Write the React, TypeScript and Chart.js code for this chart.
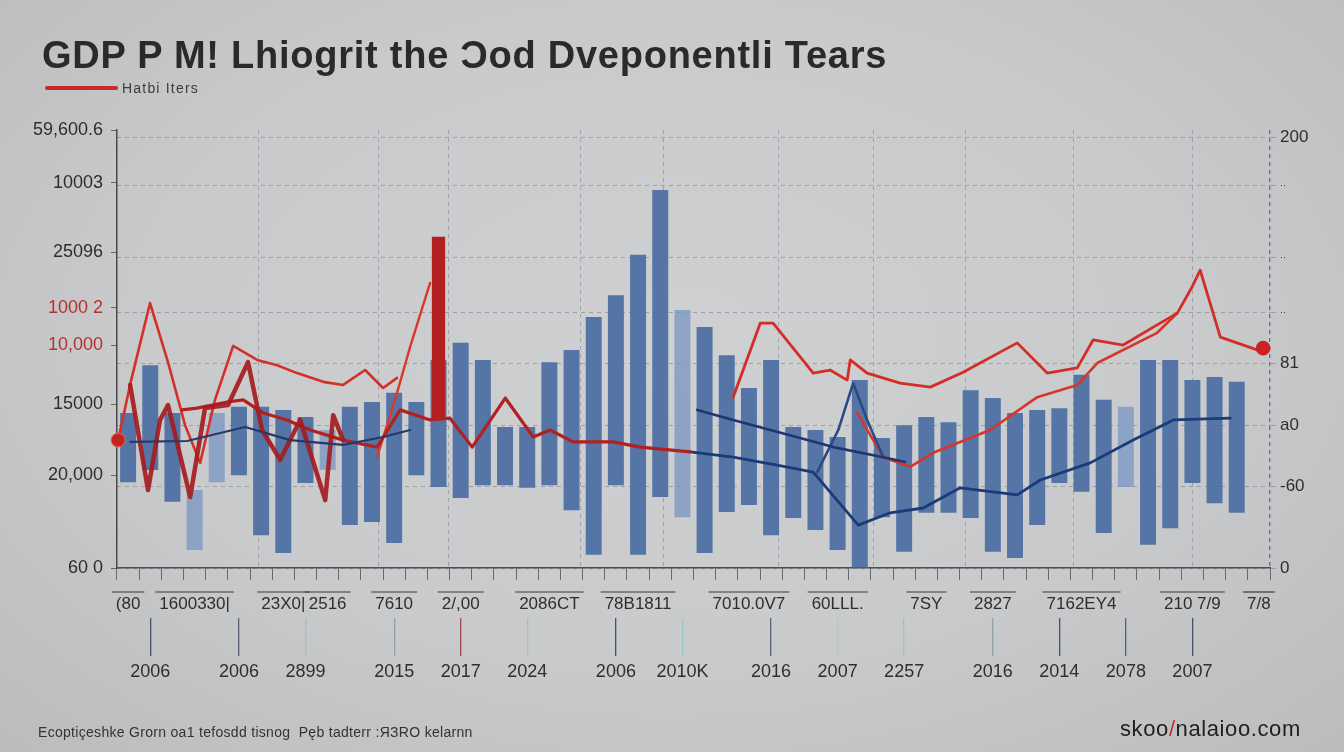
import React, { useEffect, useRef } from "react";
import { Chart, registerables } from "chart.js";

Chart.register(...registerables);

// ---------- DATA ----------
const CATEGORIES = Array.from({ length: 52 }, (_, i) => `P${i + 1}`);

// floating bars: low / high (left-axis units)
const BAR_LOW = [19.6, 22.4, 15.1, 4.1, 19.6, 21.2, 7.5, 3.4, 19.4, 22.4, 9.8, 10.5, 5.7, 21.2, 18.5, 16.0, 18.9, 18.9, 18.3, 18.9, 13.2, 3.0, 18.9, 3.0, 16.2, 11.6, 3.4, 12.8, 14.4, 7.5, 11.4, 8.7, 4.1, 0, 11.6, 3.7, 12.6, 12.6, 11.4, 3.7, 2.3, 9.8, 19.4, 17.4, 8.0, 18.5, 5.3, 9.1, 19.4, 14.8, 12.6, null];
const BAR_HIGH = [35.4, 46.3, 35.4, 17.8, 35.4, 36.8, 36.8, 36.1, 34.5, 31.5, 36.8, 37.9, 40.0, 37.9, 47.5, 51.4, 47.5, 32.2, 32.2, 47.0, 49.8, 57.3, 62.3, 71.5, 86.3, 58.9, 55.0, 48.6, 41.1, 47.5, 32.2, 31.5, 29.9, 42.9, 29.7, 32.6, 34.5, 33.3, 40.6, 38.8, 35.4, 36.1, 36.5, 44.1, 38.4, 36.8, 47.5, 47.5, 42.9, 43.6, 42.5, null];
const FADED_BARS = [3, 4, 9, 25, 45];

const ACCENT_INDEX = 14;
const ACCENT_LOW = 33.8;
const ACCENT_HIGH = 75.6;

// lines (x in period units, y in left-axis units)
const RED_UPPER_X = [-0.45, 0.14, 0.99, 1.8, 2.57, 3.25, 3.92, 4.74, 5.82, 6.72, 7.62, 8.8, 9.7, 10.69, 11.5, 12.13];
const RED_UPPER_Y = [29.2, 42.9, 60.5, 47.0, 32.6, 24.0, 38.4, 50.7, 47.5, 46.3, 44.5, 42.5, 41.8, 45.2, 41.1, 43.4];

const RED_STEEP_X = [11.23, 12.13, 12.72, 13.62];
const RED_STEEP_Y = [25.3, 40.0, 50.5, 65.1];

const RED_ZIG_X = [0.09, 0.9, 1.44, 1.8, 2.8, 3.47, 4.51, 5.41, 6.04, 6.86, 7.76, 8.89, 9.25, 9.7];
const RED_ZIG_Y = [41.8, 17.8, 33.8, 37.2, 16.2, 36.5, 37.2, 47.0, 31.5, 24.7, 33.8, 15.5, 34.9, 29.2];

const RED_MID_X = [2.44, 3.11, 4.47, 5.19, 6.09, 7.17, 8.21, 9.7, 11.23, 12.27, 13.62, 14.52, 15.52, 17.01, 18.27, 19.03, 20.07, 21.88, 23.09, 25.35];
const RED_MID_Y = [36.1, 36.5, 37.9, 38.4, 35.4, 33.8, 31.5, 29.2, 27.6, 36.1, 33.8, 34.2, 27.6, 38.8, 29.9, 31.5, 28.8, 28.8, 27.6, 26.5];

const NAVY_LEFT_X = [0.09, 2.66, 5.28, 7.31, 9.7, 11.5, 12.72];
const NAVY_LEFT_Y = [28.8, 29.0, 32.2, 29.2, 28.1, 29.9, 31.5];

const NAVY_MID_X = [25.67, 27.29, 30.31, 31.8, 34.06, 35.05];
const NAVY_MID_Y = [36.1, 33.8, 29.7, 27.6, 25.3, 24.2];

const NAVY_SPIKE_X = [31.08, 32.03, 32.7, 33.33, 34.06];
const NAVY_SPIKE_Y = [21.9, 31.5, 42.2, 33.8, 25.3];

const NAVY_LOW_X = [25.35, 27.29, 29.27, 30.9, 32.93, 34.37, 35.86, 37.53, 40.1, 41.14, 43.39, 45.33, 47.14, 49.71];
const NAVY_LOW_Y = [26.5, 25.3, 23.5, 21.9, 9.8, 12.6, 13.7, 18.3, 16.7, 20.1, 24.0, 29.2, 33.8, 34.2];

const RED_RIGHT_X = [27.29, 28.51, 29.09, 30.9, 31.66, 32.43, 32.57, 33.33, 34.82, 36.18, 37.66, 40.1, 41.45, 42.81, 43.53, 44.88, 46.41, 47.32, 47.99, 48.35, 49.26, 50.92, 51.19];
const RED_RIGHT_Y = [39.0, 55.9, 55.9, 44.5, 45.2, 42.9, 47.5, 44.5, 42.2, 41.3, 44.7, 51.4, 44.5, 45.7, 52.1, 50.9, 55.5, 58.2, 64.2, 68.0, 52.7, 49.8, 50.2];

const RED_LOWER_X = [32.88, 34.06, 35.27, 36.31, 38.88, 41.0, 42.81, 43.71, 46.41, 47.32];
const RED_LOWER_Y = [35.4, 25.3, 23.1, 26.3, 31.5, 39.0, 41.8, 46.8, 53.7, 58.2];

// tick labels
const LEFT_TICK_VALUES = [100, 87.9, 72.1, 59.4, 50.9, 37.4, 21.2, 0];
const LEFT_TICK_LABELS = ["59,600.6", "10003", "25096", "1000 2", "10,000", "15000", "20,000", "60 0"];
const LEFT_RED_TICKS = [3, 4];

const RIGHT_TICK_VALUES = [98.4, 87.4, 71.0, 58.4, 46.8, 32.6, 18.7, 0];
const RIGHT_TICK_LABELS = ["200", "··", "··", "··", "81", "a0", "-60", "0"];

const ROW1_AT = [0, 3, 7, 9, 12, 15, 19, 23, 28, 32, 36, 39, 43, 48, 51];
const ROW1_TEXT = ["(80", "1600330|", "23X0|", "2516", "7610", "2/,00", "2086CT", "78B1811", "7010.0V7", "60LLL.", "7SY", "2827", "7162EY4", "210 7/9", "7/8"];

const ROW2_AT = [1, 5, 8, 12, 15, 18, 22, 25, 29, 32, 35, 39, 42, 45, 48];
const ROW2_TEXT = ["2006", "2006", "2899", "2015", "2017", "2024", "2006", "2010K", "2016", "2007", "2257", "2016", "2014", "2078", "2007"];

const VGRID_AT = [5.86, 11.28, 14.43, 20.39, 24.13, 29.32, 33.6, 37.75, 42.63, 47.99, 51.5];

// ---------- STYLE ----------
const AXIS_FONT = '"Liberation Sans", Arial, sans-serif';
const ROW1_FONT_SIZE = 17;
const ROW2_LINE_COLORS = ["#4b4f6a", "#5a5f78", "#9cc6bb", "#8fa0a8", "#a24848", "#9cc6bb", "#4b4f6a", "#9cc6bb", "#5a5f78", "#a7cfc3", "#9cc6bb", "#8fa0a8", "#4b4f6a", "#5a5f78", "#4b4f6a"];

const row1Full = CATEGORIES.map((_, i) => {
  const k = ROW1_AT.indexOf(i);
  return k >= 0 ? ROW1_TEXT[k] : "";
});
const row2Full = CATEGORIES.map((_, i) => {
  const k = ROW2_AT.indexOf(i);
  return k >= 0 ? ROW2_TEXT[k] : "";
});

const overlinePlugin = {
  id: "rowOverline",
  afterDraw(chart: any) {
    const sc = chart.scales.x;
    const c = chart.ctx;
    c.save();
    c.font = `${ROW1_FONT_SIZE}px ${AXIS_FONT}`;
    c.strokeStyle = "#3a3a3a";
    c.lineWidth = 1.2;
    row1Full.forEach((lab, i) => {
      if (!lab) return;
      const px = sc.getPixelForTick(i);
      const w = c.measureText(lab).width;
      c.beginPath();
      c.moveTo(px - w / 2 - 4, sc.top + 24);
      c.lineTo(px + w / 2 + 4, sc.top + 24);
      c.stroke();
    });
    c.restore();
  },
};

export default function App() {
  const ref = useRef<HTMLCanvasElement>(null);

  useEffect(() => {
    document.body.style.margin = "0";
    const canvas = ref.current!;
    const pts = (xs: number[], ys: number[]) => xs.map((x, i) => ({ x, y: ys[i] }));
    const lineDs = (label: string, xs: number[], ys: number[], color: string, width: number, extra: any = {}) => ({
      type: "line",
      label,
      data: pts(xs, ys),
      xAxisID: "xl",
      yAxisID: "y",
      borderColor: color,
      backgroundColor: color,
      borderWidth: width,
      pointRadius: 0,
      tension: 0,
      borderJoinStyle: "round",
      borderCapStyle: "round",
      order: 1,
      clip: 12,
      ...extra,
    });

    const chart = new Chart(canvas, {
      type: "bar",
      data: {
        labels: CATEGORIES,
        datasets: [
          {
            type: "bar",
            label: "GDP range",
            data: BAR_LOW.map((l, i) => (l == null ? null : [l, BAR_HIGH[i]])) as any,
            backgroundColor: CATEGORIES.map((_, i) => (FADED_BARS.includes(i) ? "rgba(125,152,195,0.8)" : "rgba(74,110,162,0.92)")),
            barPercentage: 0.72,
            categoryPercentage: 1,
            grouped: false,
            order: 3,
            xAxisID: "x",
            yAxisID: "y",
          } as any,
          {
            type: "bar",
            label: "accent",
            data: CATEGORIES.map((_, i) => (i === ACCENT_INDEX ? [ACCENT_LOW, ACCENT_HIGH] : null)) as any,
            backgroundColor: "#b3201f",
            barPercentage: 0.6,
            categoryPercentage: 1,
            grouped: false,
            order: 2,
            xAxisID: "x",
            yAxisID: "y",
          } as any,
          lineDs("Navy left", NAVY_LEFT_X, NAVY_LEFT_Y, "#26396a", 2.2),
          lineDs("Red zig", RED_ZIG_X, RED_ZIG_Y, "rgba(165,28,30,0.92)", 4.5),
          lineDs("Red mid", RED_MID_X, RED_MID_Y, "#b0211f", 3.2),
          lineDs("Hatbi Iters", RED_UPPER_X, RED_UPPER_Y, "#d3302a", 2.6, {
            pointRadius: (c: any) => (c.dataIndex === 0 ? 7 : 0),
            pointBackgroundColor: "#c42320",
            pointBorderColor: "#e06a55",
            pointBorderWidth: 1,
          }),
          lineDs("Red steep", RED_STEEP_X, RED_STEEP_Y, "#d83a2a", 2.4),
          lineDs("Navy mid", NAVY_MID_X, NAVY_MID_Y, "#1f3770", 2.6),
          lineDs("Navy low", NAVY_LOW_X, NAVY_LOW_Y, "#1c3a78", 2.8),
          lineDs("Navy spike", NAVY_SPIKE_X, NAVY_SPIKE_Y, "#2a4a85", 2.6),
          lineDs("Red right", RED_RIGHT_X, RED_RIGHT_Y, "#d22e25", 2.8, {
            pointRadius: (c: any) => (c.dataIndex === RED_RIGHT_X.length - 1 ? 6 : 0),
            pointBackgroundColor: "#cc2222",
            pointBorderColor: "#cc2222",
          }),
          lineDs("Red lower", RED_LOWER_X, RED_LOWER_Y, "#d6362a", 2.6),
        ] as any,
      },
      options: {
        responsive: false,
        animation: false,
        layout: { padding: { top: 130, bottom: 64, left: 0, right: 0 } },
        plugins: {
          legend: { display: false },
          tooltip: { enabled: false },
          title: { display: false },
        },
        scales: {
          x: {
            type: "category",
            position: "bottom",
            weight: 0,
            offset: true,
            grid: { display: true, drawOnChartArea: false, drawTicks: true, tickLength: 12, color: "#6a6a6a", lineWidth: 1 },
            border: { display: true, color: "#4e4e4e", width: 1.5 },
            ticks: {
              autoSkip: false,
              maxRotation: 0,
              minRotation: 0,
              padding: 14,
              color: "#2e2e2e",
              font: { size: ROW1_FONT_SIZE, family: AXIS_FONT },
              callback: (_v: any, i: number) => row1Full[i],
            },
            afterFit: (s: any) => {
              s.height = 50;
            },
          },
          x2: {
            type: "category",
            position: "bottom",
            weight: 1,
            offset: true,
            grid: {
              display: true,
              offset: false,
              drawOnChartArea: false,
              drawTicks: true,
              tickLength: 38,
              lineWidth: 1.3,
              color: (c: any) => {
                const k = ROW2_AT.indexOf(c.index);
                return k >= 0 ? ROW2_LINE_COLORS[k] : "transparent";
              },
            },
            border: { display: false },
            ticks: {
              autoSkip: false,
              maxRotation: 0,
              minRotation: 0,
              padding: 5,
              color: "#2e2e2e",
              font: { size: 18, family: AXIS_FONT },
              callback: (_v: any, i: number) => row2Full[i],
            },
            afterFit: (s: any) => {
              s.height = 70;
            },
          },
          xl: {
            type: "linear",
            position: "top",
            min: -0.5,
            max: 51.5,
            offset: false,
            grid: {
              display: true,
              offset: false,
              drawOnChartArea: true,
              drawTicks: false,
              lineWidth: (c: any) => (c.tick && c.tick.value === 51.5 ? 1.4 : 1),
              color: (c: any) => (c.tick && c.tick.value === 51.5 ? "#6f7278" : "rgba(120,122,132,0.5)"),
            },
            border: { display: false, dash: [4, 4] },
            ticks: { display: false },
            afterBuildTicks: (s: any) => {
              s.ticks = VGRID_AT.map((v) => ({ value: v }));
            },
            afterFit: (s: any) => {
              s.height = 0;
            },
          },
          y: {
            type: "linear",
            position: "left",
            min: 0,
            max: 100,
            grid: { display: true, drawOnChartArea: false, drawTicks: true, tickLength: 6, color: "#666" },
            border: { display: true, color: "#4a4a4a", width: 1.5 },
            ticks: {
              padding: 8,
              font: { size: 18, family: AXIS_FONT },
              color: (c: any) => (LEFT_RED_TICKS.includes(c.index) ? "#b8312f" : "#2e2e2e"),
              callback: (_v: any, i: number) => LEFT_TICK_LABELS[i],
            },
            afterBuildTicks: (s: any) => {
              s.ticks = LEFT_TICK_VALUES.map((v) => ({ value: v }));
            },
            afterFit: (s: any) => {
              s.width = 117;
            },
          },
          y2: {
            type: "linear",
            position: "right",
            min: 0,
            max: 100,
            grid: { display: true, drawOnChartArea: true, drawTicks: true, tickLength: 6, color: "rgba(120,122,132,0.55)", lineWidth: 1 },
            border: { display: false, dash: [4, 4] },
            ticks: {
              padding: 4,
              color: "#2e2e2e",
              font: (c: any) => ({ size: RIGHT_TICK_LABELS[c.index] === "··" ? 9 : 17, family: AXIS_FONT }),
              callback: (_v: any, i: number) => RIGHT_TICK_LABELS[i],
            },
            afterBuildTicks: (s: any) => {
              s.ticks = RIGHT_TICK_VALUES.map((v) => ({ value: v }));
            },
            afterFit: (s: any) => {
              s.width = 74;
            },
          },
        },
      } as any,
      plugins: [overlinePlugin],
    });
    return () => chart.destroy();
  }, []);

  return (
    <div
      style={{
        position: "relative",
        width: 1344,
        height: 752,
        overflow: "hidden",
        background: "radial-gradient(ellipse at 50% 45%, #cfd0d2 0%, #c9cacc 55%, #bbbcbe 100%)",
        fontFamily: AXIS_FONT,
      }}
    >
      <canvas ref={ref} width={1344} height={752} style={{ position: "absolute", left: 0, top: 0 }} />
      <div
        style={{
          position: "absolute",
          left: 42,
          top: 36,
          fontSize: 38,
          lineHeight: 1,
          fontWeight: 700,
          color: "#2a2a2a",
          whiteSpace: "nowrap",
          letterSpacing: 0.75,
        }}
      >
        GDP P M! Lhiogrit the Ɔod Dveponentli Tears
      </div>
      <div style={{ position: "absolute", left: 45, top: 86, width: 73, height: 4, background: "#c62a26", borderRadius: 2 }} />
      <div style={{ position: "absolute", left: 122, top: 81, fontSize: 14, lineHeight: 1, color: "#3c3c3c", whiteSpace: "nowrap", letterSpacing: 1.2 }}>
        Hatbi Iters
      </div>
      <div style={{ position: "absolute", left: 38, top: 725, fontSize: 14, lineHeight: 1, color: "#333", whiteSpace: "nowrap", letterSpacing: 0.3 }}>
        Ecoptiçeshke Grorn oa1 tefosdd tisnog&nbsp;&nbsp;Pęb tadterr :ЯЗRO kelarnn
      </div>
      <div style={{ position: "absolute", left: 1120, top: 718, fontSize: 22, lineHeight: 1, color: "#1f1f1f", whiteSpace: "nowrap", letterSpacing: 0.6 }}>
        skoo<span style={{ color: "#c0302a" }}>/</span>nalaioo.com
      </div>
    </div>
  );
}
